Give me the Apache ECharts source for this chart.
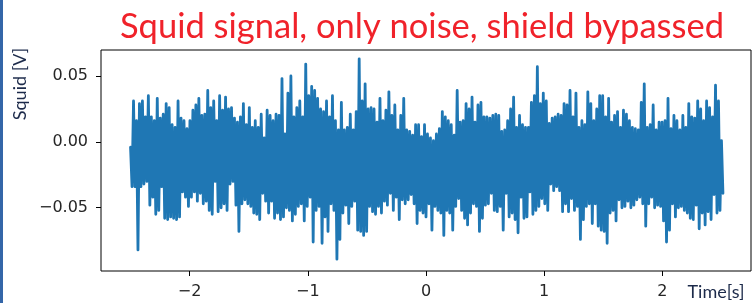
<!DOCTYPE html>
<html>
<head>
<meta charset="utf-8">
<script src="https://cdn.jsdelivr.net/npm/echarts@6/dist/echarts.min.js"></script>
<style>
    html, body { margin: 0; padding: 0; background: #fff; }
    #chart { width: 753px; height: 303px; }
</style>
</head>
<body>
<div id="chart"></div>
<script>
    // time span of the record (s)
    var tStart = -2.5
    var tEnd = 2.5

    // upper / lower swing of each ~25 ms slice (V)
    var upper = [
        -0.004, 0.031, 0.016, 0.029, 0.031, 0.019, 0.035, 0.019, 0.016, 0.033, 0.018, 0.021, 0.029, 0.026, 0.013, 0.011, 0.031, 0.018, 0.016, 0.010,
        0.016, 0.024, 0.028, 0.033, 0.020, 0.021, 0.039, 0.026, 0.031, 0.016, 0.035, 0.024, 0.034, 0.025, 0.026, 0.018, 0.015, 0.019, 0.029,
        0.013, 0.026, 0.011, 0.016, 0.011, 0.021, 0.003, 0.024, 0.020, 0.016, 0.021, 0.020, 0.048, 0.006, 0.037, 0.050, 0.019, 0.026, 0.031, 0.019,
        0.059, 0.035, 0.042, 0.039, 0.033, 0.025, 0.023, 0.031, 0.019, 0.035, 0.016, 0.009, 0.030, 0.009, 0.011, 0.021, 0.009, 0.023, 0.063, 0.031,
        0.044, 0.025, 0.026, 0.025, 0.015, 0.033, 0.016, 0.024, 0.038, 0.020, 0.028, 0.009, 0.020, 0.033, 0.009, 0.008, 0.005, 0.013, 0.013, 0.004,
        0.013, 0.006, 0.003, 0.001, 0.006, 0.010, 0.023, 0.019, 0.016, 0.013, 0.005, 0.039, 0.015, 0.016, 0.029, 0.025, 0.034, 0.015, 0.028, 0.030,
        0.019, 0.019, 0.018, 0.020, 0.021, 0.020, 0.008, 0.009, 0.016, 0.025, 0.034, 0.011, 0.020, 0.013, 0.011, 0.011, 0.030, 0.035, 0.057, 0.029,
        0.037, 0.031, 0.014, 0.018, 0.019, 0.021, 0.020, 0.029, 0.028, 0.039, 0.019, 0.037, 0.011, 0.016, 0.013, 0.038, 0.029, 0.016, 0.025, 0.035,
        0.035, 0.019, 0.033, 0.015, 0.020, 0.023, 0.011, 0.024, 0.021, 0.016, 0.011, 0.010, 0.009, 0.030, 0.044, 0.011, 0.013, 0.028, 0.009, 0.015,
        0.015, 0.016, 0.033, 0.010, 0.020, 0.016, 0.009, 0.020, 0.011, 0.029, 0.019, 0.018, 0.031, 0.025, 0.016, 0.031, 0.026, 0.019, 0.043, 0.031, 0.001
    ]
    var lower = [
        -0.034, -0.034, -0.082, -0.034, -0.032, -0.030, -0.048, -0.042, -0.055, -0.052, -0.034, -0.058, -0.059, -0.057, -0.058, -0.059, -0.057, -0.038, -0.042, -0.049,
        -0.042, -0.038, -0.045, -0.039, -0.047, -0.045, -0.052, -0.055, -0.030, -0.053, -0.050, -0.047, -0.052, -0.032, -0.030, -0.048, -0.068, -0.047, -0.044,
        -0.047, -0.049, -0.054, -0.055, -0.059, -0.039, -0.045, -0.054, -0.045, -0.058, -0.054, -0.059, -0.057, -0.050, -0.052, -0.060, -0.055, -0.049, -0.047, -0.060,
        -0.049, -0.042, -0.076, -0.052, -0.049, -0.077, -0.057, -0.068, -0.047, -0.052, -0.089, -0.074, -0.054, -0.048, -0.062, -0.049, -0.045, -0.067, -0.068, -0.071,
        -0.068, -0.049, -0.053, -0.055, -0.049, -0.054, -0.045, -0.048, -0.039, -0.052, -0.042, -0.059, -0.044, -0.047, -0.044, -0.040, -0.047, -0.062, -0.052, -0.054,
        -0.057, -0.047, -0.067, -0.049, -0.052, -0.054, -0.071, -0.052, -0.054, -0.067, -0.049, -0.043, -0.052, -0.058, -0.063, -0.054, -0.047, -0.049, -0.068, -0.058,
        -0.048, -0.047, -0.039, -0.052, -0.053, -0.049, -0.067, -0.039, -0.057, -0.054, -0.059, -0.069, -0.042, -0.058, -0.057, -0.038, -0.055, -0.052, -0.049, -0.043,
        -0.047, -0.052, -0.032, -0.037, -0.034, -0.037, -0.053, -0.047, -0.053, -0.043, -0.052, -0.049, -0.074, -0.059, -0.049, -0.047, -0.062, -0.047, -0.064, -0.067,
        -0.068, -0.077, -0.054, -0.052, -0.060, -0.044, -0.050, -0.049, -0.045, -0.050, -0.048, -0.044, -0.042, -0.047, -0.064, -0.047, -0.042, -0.050, -0.048, -0.049,
        -0.060, -0.076, -0.067, -0.047, -0.057, -0.050, -0.049, -0.052, -0.054, -0.058, -0.059, -0.048, -0.066, -0.054, -0.063, -0.053, -0.059, -0.040, -0.054, -0.052, -0.039
    ]

    var xTicks = [-2, -1, 0, 1, 2]
    var yTicks = [-0.05, 0, 0.05]

    var titleText = 'Squid signal, only noise, shield bypassed'
    var yName = 'Squid [V]'
    var xName = 'Time[s]'

    // zigzag between the upper and lower swing of every slice
    var dt = (tEnd - tStart) / (upper.length - 1)
    var signal = []
    for (var i = 0; i < upper.length; i++) {
        var t = tStart + i * dt
        signal.push([t, upper[i]])
        signal.push([t + dt / 2, lower[i]])
    }

    var minus = function (v, digits) {
        return v.toFixed(digits).replace('-', '\u2212')
    }

    var tickFont = { fontFamily: 'DejaVu Sans', fontSize: 16, color: '#262626' }

    var option = {
        animation: false,
        grid: {
            left: 101, right: 2, top: 50, bottom: 32,
            show: true,
            borderColor: '#000',
            borderWidth: 1
        },
        xAxis: {
            type: 'value',
            min: -2.75,
            max: 2.75,
            axisLine: { show: false, onZero: false },
            splitLine: { show: false },
            axisTick: { show: true, length: 5, lineStyle: { color: '#000' }, customValues: xTicks },
            axisLabel: Object.assign({
                customValues: xTicks,
                margin: 13,
                formatter: function (v) { return minus(v, 0) }
            }, tickFont)
        },
        yAxis: {
            type: 'value',
            min: -0.098,
            max: 0.0697,
            axisLine: { show: false, onZero: false },
            splitLine: { show: false },
            axisTick: { show: true, length: 5, lineStyle: { color: '#000' }, customValues: yTicks },
            axisLabel: Object.assign({
                customValues: yTicks,
                margin: 13,
                formatter: function (v) { return minus(v, 2) }
            }, tickFont)
        },
        graphic: [
            {
                type: 'rect',
                shape: { x: 0, y: 0, width: 3, height: 303 },
                style: { fill: '#3466a8' }
            },
            {
                type: 'text',
                x: 422, y: 27,
                style: {
                    text: titleText,
                    fill: '#f0222a',
                    fontFamily: 'Lato',
                    fontSize: 34.5,
                    align: 'center',
                    verticalAlign: 'middle'
                }
            },
            {
                type: 'text',
                x: 20, y: 84,
                rotation: Math.PI / 2,
                style: {
                    text: yName,
                    fill: '#1c2a4a',
                    fontFamily: 'Lato',
                    fontSize: 18,
                    align: 'center',
                    verticalAlign: 'middle'
                }
            },
            {
                type: 'text',
                x: 716, y: 292,
                style: {
                    text: xName,
                    fill: '#1c2a4a',
                    fontFamily: 'Lato',
                    fontSize: 18,
                    align: 'center',
                    verticalAlign: 'middle'
                }
            }
        ],
        series: [{
            type: 'line',
            data: signal,
            showSymbol: false,
            sampling: null,
            lineStyle: { color: '#1f77b4', width: 2.8, join: 'round', cap: 'round' }
        }]
    }

    var chart = echarts.init(document.getElementById('chart'))
    chart.setOption(option)
</script>
</body>
</html>
